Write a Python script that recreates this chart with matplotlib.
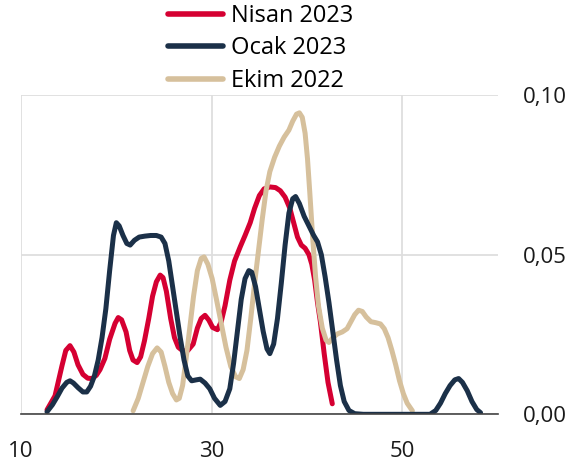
import matplotlib
matplotlib.use("Agg")
import matplotlib.pyplot as plt
from matplotlib.ticker import FuncFormatter

plt.rcParams['font.family'] = ['Open Sans', 'DejaVu Sans']

# Nisan 2023
nisan_x = [12.73, 13.57, 14.30, 14.70, 15.14, 15.55, 15.98, 16.50, 17.00, 17.45,
           17.90, 18.29, 18.80, 19.30, 19.87, 20.20, 20.55, 21.02, 21.40, 21.75,
           22.18, 22.55, 22.95, 23.40, 23.80, 24.20, 24.60, 24.90, 25.25, 25.70,
           26.10, 26.50, 27.00, 27.50, 28.06, 28.50, 28.90, 29.30, 29.70, 30.10,
           30.60, 31.00, 31.40, 31.90, 32.40, 33.00, 33.50, 34.04, 34.50, 35.00,
           35.50, 36.10, 36.70, 37.20, 37.70, 38.20, 38.60, 39.00, 39.40, 39.80,
           40.20, 40.50, 40.80, 41.10, 41.40, 41.80, 42.20, 42.65]
nisan_y = [0.0014, 0.0058, 0.0152, 0.0200, 0.0215, 0.0195, 0.0155, 0.0125, 0.0113, 0.0112,
           0.0122, 0.0140, 0.0175, 0.0235, 0.0285, 0.0303, 0.0296, 0.0258, 0.0200, 0.0170,
           0.0162, 0.0180, 0.0230, 0.0300, 0.0370, 0.0415, 0.0436, 0.0428, 0.0385, 0.0300,
           0.0240, 0.0210, 0.0198, 0.0200, 0.0220, 0.0270, 0.0300, 0.0310, 0.0295, 0.0272,
           0.0265, 0.0290, 0.0340, 0.0420, 0.0480, 0.0525, 0.0560, 0.0600, 0.0645, 0.0685,
           0.0706, 0.0712, 0.0710, 0.0700, 0.0680, 0.0645, 0.0600, 0.0555, 0.0530, 0.0520,
           0.0500, 0.0470, 0.0420, 0.0350, 0.0290, 0.0190, 0.0100, 0.0033]

# Ocak 2023
ocak_x = [12.73, 13.30, 13.80, 14.30, 14.80, 15.14, 15.50, 16.00, 16.50, 16.90,
          17.30, 17.70, 18.10, 18.50, 18.90, 19.30, 19.70, 20.00, 20.30, 20.70,
          21.10, 21.45, 21.90, 22.40, 23.00, 23.60, 24.20, 24.70, 25.10, 25.50,
          25.90, 26.30, 26.70, 27.10, 27.50, 27.90, 28.40, 28.80, 29.30, 29.80,
          30.30, 30.90, 31.40, 31.90, 32.30, 32.70, 33.10, 33.50, 33.90, 34.20,
          34.60, 35.00, 35.40, 35.80, 36.10, 36.50, 36.90, 37.30, 37.70, 38.10,
          38.50, 38.80, 39.20, 39.70, 40.20, 40.70, 41.10, 41.50, 41.90, 42.30,
          42.70, 43.10, 43.50, 43.90, 44.40, 45.00, 45.90, 52.90, 53.50, 54.00,
          54.50, 55.00, 55.50, 55.90, 56.30, 56.80, 57.30, 57.80, 58.20]
ocak_y = [0.0008, 0.0030, 0.0055, 0.0082, 0.0100, 0.0105, 0.0098, 0.0083, 0.0070, 0.0070,
          0.0088, 0.0120, 0.0170, 0.0240, 0.0330, 0.0450, 0.0560, 0.0600, 0.0590, 0.0560,
          0.0535, 0.0530, 0.0545, 0.0555, 0.0558, 0.0560, 0.0560, 0.0555, 0.0535, 0.0480,
          0.0400, 0.0320, 0.0240, 0.0170, 0.0120, 0.0105, 0.0108, 0.0110, 0.0098, 0.0080,
          0.0050, 0.0028, 0.0040, 0.0080, 0.0160, 0.0260, 0.0360, 0.0425, 0.0450, 0.0445,
          0.0400, 0.0330, 0.0260, 0.0205, 0.0190, 0.0220, 0.0300, 0.0410, 0.0530, 0.0630,
          0.0675, 0.0682, 0.0660, 0.0620, 0.0590, 0.0560, 0.0540, 0.0500, 0.0430, 0.0350,
          0.0260, 0.0170, 0.0090, 0.0040, 0.0012, 0.0002, 0.0000, 0.0000, 0.0012, 0.0035,
          0.0065, 0.0090, 0.0108, 0.0112, 0.0100, 0.0074, 0.0040, 0.0015, 0.0005]

# Ekim 2022
ekim_x = [21.76, 22.30, 22.80, 23.30, 23.80, 24.28, 24.70, 25.10, 25.50, 25.90,
          26.30, 26.60, 26.95, 27.30, 27.70, 28.10, 28.50, 28.90, 29.20, 29.60,
          30.05, 30.50, 31.00, 31.50, 32.00, 32.50, 32.90, 33.30, 33.70, 34.10,
          34.50, 34.90, 35.30, 35.70, 36.10, 36.60, 37.10, 37.60, 38.10, 38.50,
          38.90, 39.20, 39.50, 39.80, 40.05, 40.30, 40.60, 40.90, 41.20, 41.60,
          42.00, 42.30, 42.70, 43.20, 43.70, 44.20, 44.60, 45.00, 45.40, 45.80,
          46.20, 46.70, 47.20, 47.70, 48.10, 48.50, 48.90, 49.30, 49.70, 50.10,
          50.50, 51.05]
ekim_y = [0.0011, 0.0050, 0.0100, 0.0150, 0.0190, 0.0208, 0.0195, 0.0150, 0.0100, 0.0065,
          0.0045, 0.0050, 0.0090, 0.0170, 0.0270, 0.0370, 0.0450, 0.0488, 0.0493, 0.0470,
          0.0425, 0.0360, 0.0285, 0.0210, 0.0150, 0.0118, 0.0112, 0.0140, 0.0200, 0.0300,
          0.0410, 0.0510, 0.0610, 0.0700, 0.0760, 0.0805, 0.0840, 0.0868, 0.0890, 0.0918,
          0.0940, 0.0944, 0.0930, 0.0880, 0.0800, 0.0690, 0.0550, 0.0430, 0.0340, 0.0270,
          0.0232, 0.0225, 0.0240, 0.0252, 0.0258, 0.0268, 0.0290, 0.0312, 0.0326, 0.0322,
          0.0305, 0.0290, 0.0287, 0.0283, 0.0268, 0.0240, 0.0200, 0.0155, 0.0105, 0.0065,
          0.0035, 0.0011]

labels = ["Nisan 2023", "Ocak 2023", "Ekim 2022"]
colors = ["#D50032", "#1B3048", "#D6C09C"]

fig = plt.figure(figsize=(5.7, 4.69), dpi=100)
ax = fig.add_axes([0.0368, 0.1166, 0.8364, 0.6809])

line_kw = dict(linewidth=3.6, solid_capstyle='round', solid_joinstyle='round')
l1, = ax.plot(nisan_x, nisan_y, color=colors[0], zorder=3, **line_kw)
l2, = ax.plot(ocak_x, ocak_y, color=colors[1], zorder=4, **line_kw)
l3, = ax.plot(ekim_x, ekim_y, color=colors[2], zorder=3.5, **line_kw)

ax.set_xlim(10, 60)
ax.set_ylim(0, 0.10)
ax.set_xticks([10, 30, 50])
ax.set_yticks([0.0, 0.05, 0.10])
ax.yaxis.set_major_formatter(FuncFormatter(lambda v, p: f"{v:.2f}".replace(".", ",")))
ax.yaxis.tick_right()
ax.tick_params(axis='both', length=0, labelsize=16, colors='#1a1a1a')
ax.tick_params(axis='y', pad=18)
ax.tick_params(axis='x', pad=19)

ax.grid(True, color='#dedede', linewidth=1.3, zorder=0)
ax.set_axisbelow(True)
for s in ['top', 'right', 'left']:
    ax.spines[s].set_visible(False)
ax.spines['bottom'].set_color('#444444')
ax.spines['bottom'].set_linewidth(1.2)
ax.spines['bottom'].set_zorder(5)

leg = fig.legend([l1, l2, l3], labels, loc='upper left',
                 bbox_to_anchor=(168 / 570, 1 - 4 / 469),
                 frameon=False, fontsize=17, handlelength=2.35,
                 handletextpad=0.3, labelspacing=0.36, borderpad=0,
                 borderaxespad=0)
for h in leg.get_lines():
    h.set_linewidth(4.0)
    h.set_solid_capstyle('round')

fig.savefig("out.png", dpi=100)
